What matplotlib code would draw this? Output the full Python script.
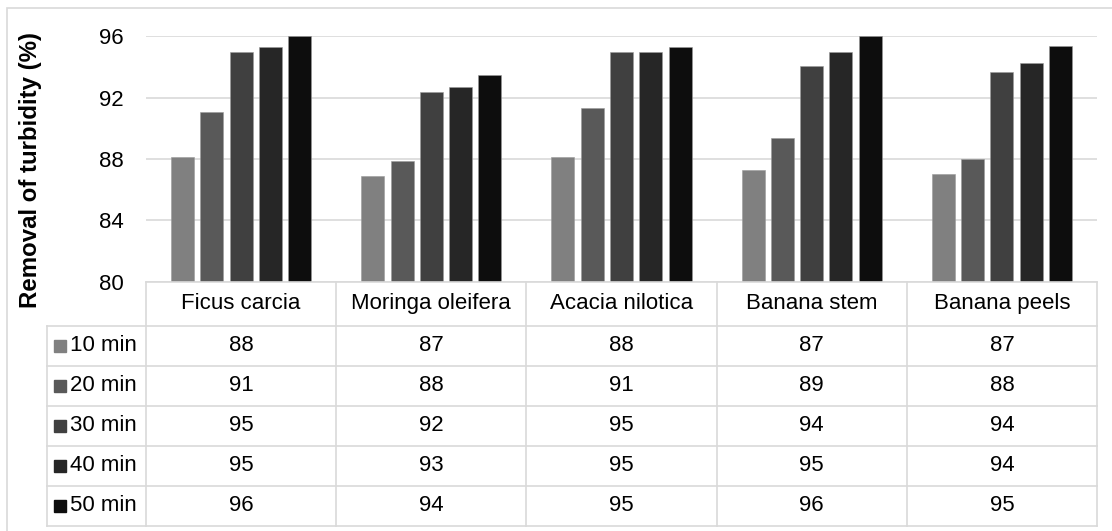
import matplotlib
matplotlib.use("Agg")
import matplotlib.pyplot as plt
import matplotlib.transforms as mtransforms
from matplotlib.patches import Rectangle

plt.rcParams['font.family'] = ['Liberation Sans', 'DejaVu Sans']

# coagulants and contact times
categories = ['Ficus carcia', 'Moringa oleifera', 'Acacia nilotica', 'Banana stem', 'Banana peels']
series = ['10 min', '20 min', '30 min', '40 min', '50 min']
removal = {
    '10 min': [88.1, 86.9, 88.1, 87.3, 87.0],
    '20 min': [91.1, 87.9, 91.3, 89.4, 88.0],
    '30 min': [95.0, 92.4, 95.0, 94.1, 93.7],
    '40 min': [95.3, 92.7, 95.0, 95.0, 94.3],
    '50 min': [96.0, 93.5, 95.3, 96.0, 95.4],
}
colors = ['#808080', '#595959', '#404040', '#262626', '#0d0d0d']
yticks = [80, 84, 88, 92, 96]

W, H = 1112, 531
GRID = '#d9d9d9'
fig = plt.figure(figsize=(W / 100, H / 100), dpi=100)

def fx(px):
    return px / W

def fy(py):
    return 1 - py / H

# outer chart frame
fig.patches.append(Rectangle((fx(7), -0.1), 1.2, fy(8) + 0.1, transform=fig.transFigure,
                             fill=False, edgecolor=GRID, linewidth=1.2))

left, right = 146, 1097
ax = fig.add_axes([fx(left), fy(281.5), fx(right - left), fy(36.5) - fy(281.5)])
x = list(range(len(categories)))
bw, step = 0.121, 0.154
for k, (name, col) in enumerate(zip(series, colors)):
    ax.bar([i + (k - 2) * step for i in x], removal[name], width=bw, color=col,
           edgecolor='#9a9a9a', linewidth=0.4, zorder=3)
ax.set_ylim(80, 96)
ax.set_xlim(-0.5, len(categories) - 0.5)
ax.set_yticks(yticks)
ax.set_xticks([])
ax.yaxis.grid(True, color=GRID, linewidth=1.2)
ax.tick_params(axis='y', length=0, pad=16, labelsize=16)
for s in ax.spines.values():
    s.set_visible(False)

# data table under the bars
tab = fig.add_axes([fx(left), fy(526), fx(right - left), fy(281.5) - fy(526)])
tab.set_xlim(-0.5, len(categories) - 0.5)
head = 1.1
nrows = len(series)
tab.set_ylim(head + nrows, 0)
tab.axis('off')
label_left = -0.5 - 99 / 190.2

lkw = dict(color=GRID, linewidth=1.2, clip_on=False)
tab.plot([-0.5, len(categories) - 0.5], [0, 0], **lkw)
for r in range(nrows + 1):
    tab.plot([label_left, len(categories) - 0.5], [head + r] * 2, **lkw)
for i in range(len(categories) + 1):
    tab.plot([i - 0.5] * 2, [0, head + nrows], **lkw)
tab.plot([label_left] * 2, [head, head + nrows], **lkw)

for i, cat in enumerate(categories):
    tab.text(i, head / 2, cat, ha='center', va='center', fontsize=16)
    for r, name in enumerate(series):
        tab.text(i, head + r + 0.5, f'{removal[name][i]:.0f}', ha='center', va='center', fontsize=16)

for r, (name, col) in enumerate(zip(series, colors)):
    yc = head + r + 0.5
    key_tr = mtransforms.offset_copy(tab.transData, fig=fig, x=13 * 0.72, y=0, units='points')
    tab.plot([label_left], [yc], marker='s', markersize=8.6, color=col, transform=key_tr, clip_on=False)
    txt_tr = mtransforms.offset_copy(tab.transData, fig=fig, x=23 * 0.72, y=0, units='points')
    tab.text(label_left, yc, name, ha='left', va='center', fontsize=16, transform=txt_tr)

fig.text(fx(31), fy(170), 'Removal of turbidity (%)', rotation=90, ha='center', va='center',
         fontsize=17.3, fontweight='bold')

fig.savefig('out.png', dpi=100)
